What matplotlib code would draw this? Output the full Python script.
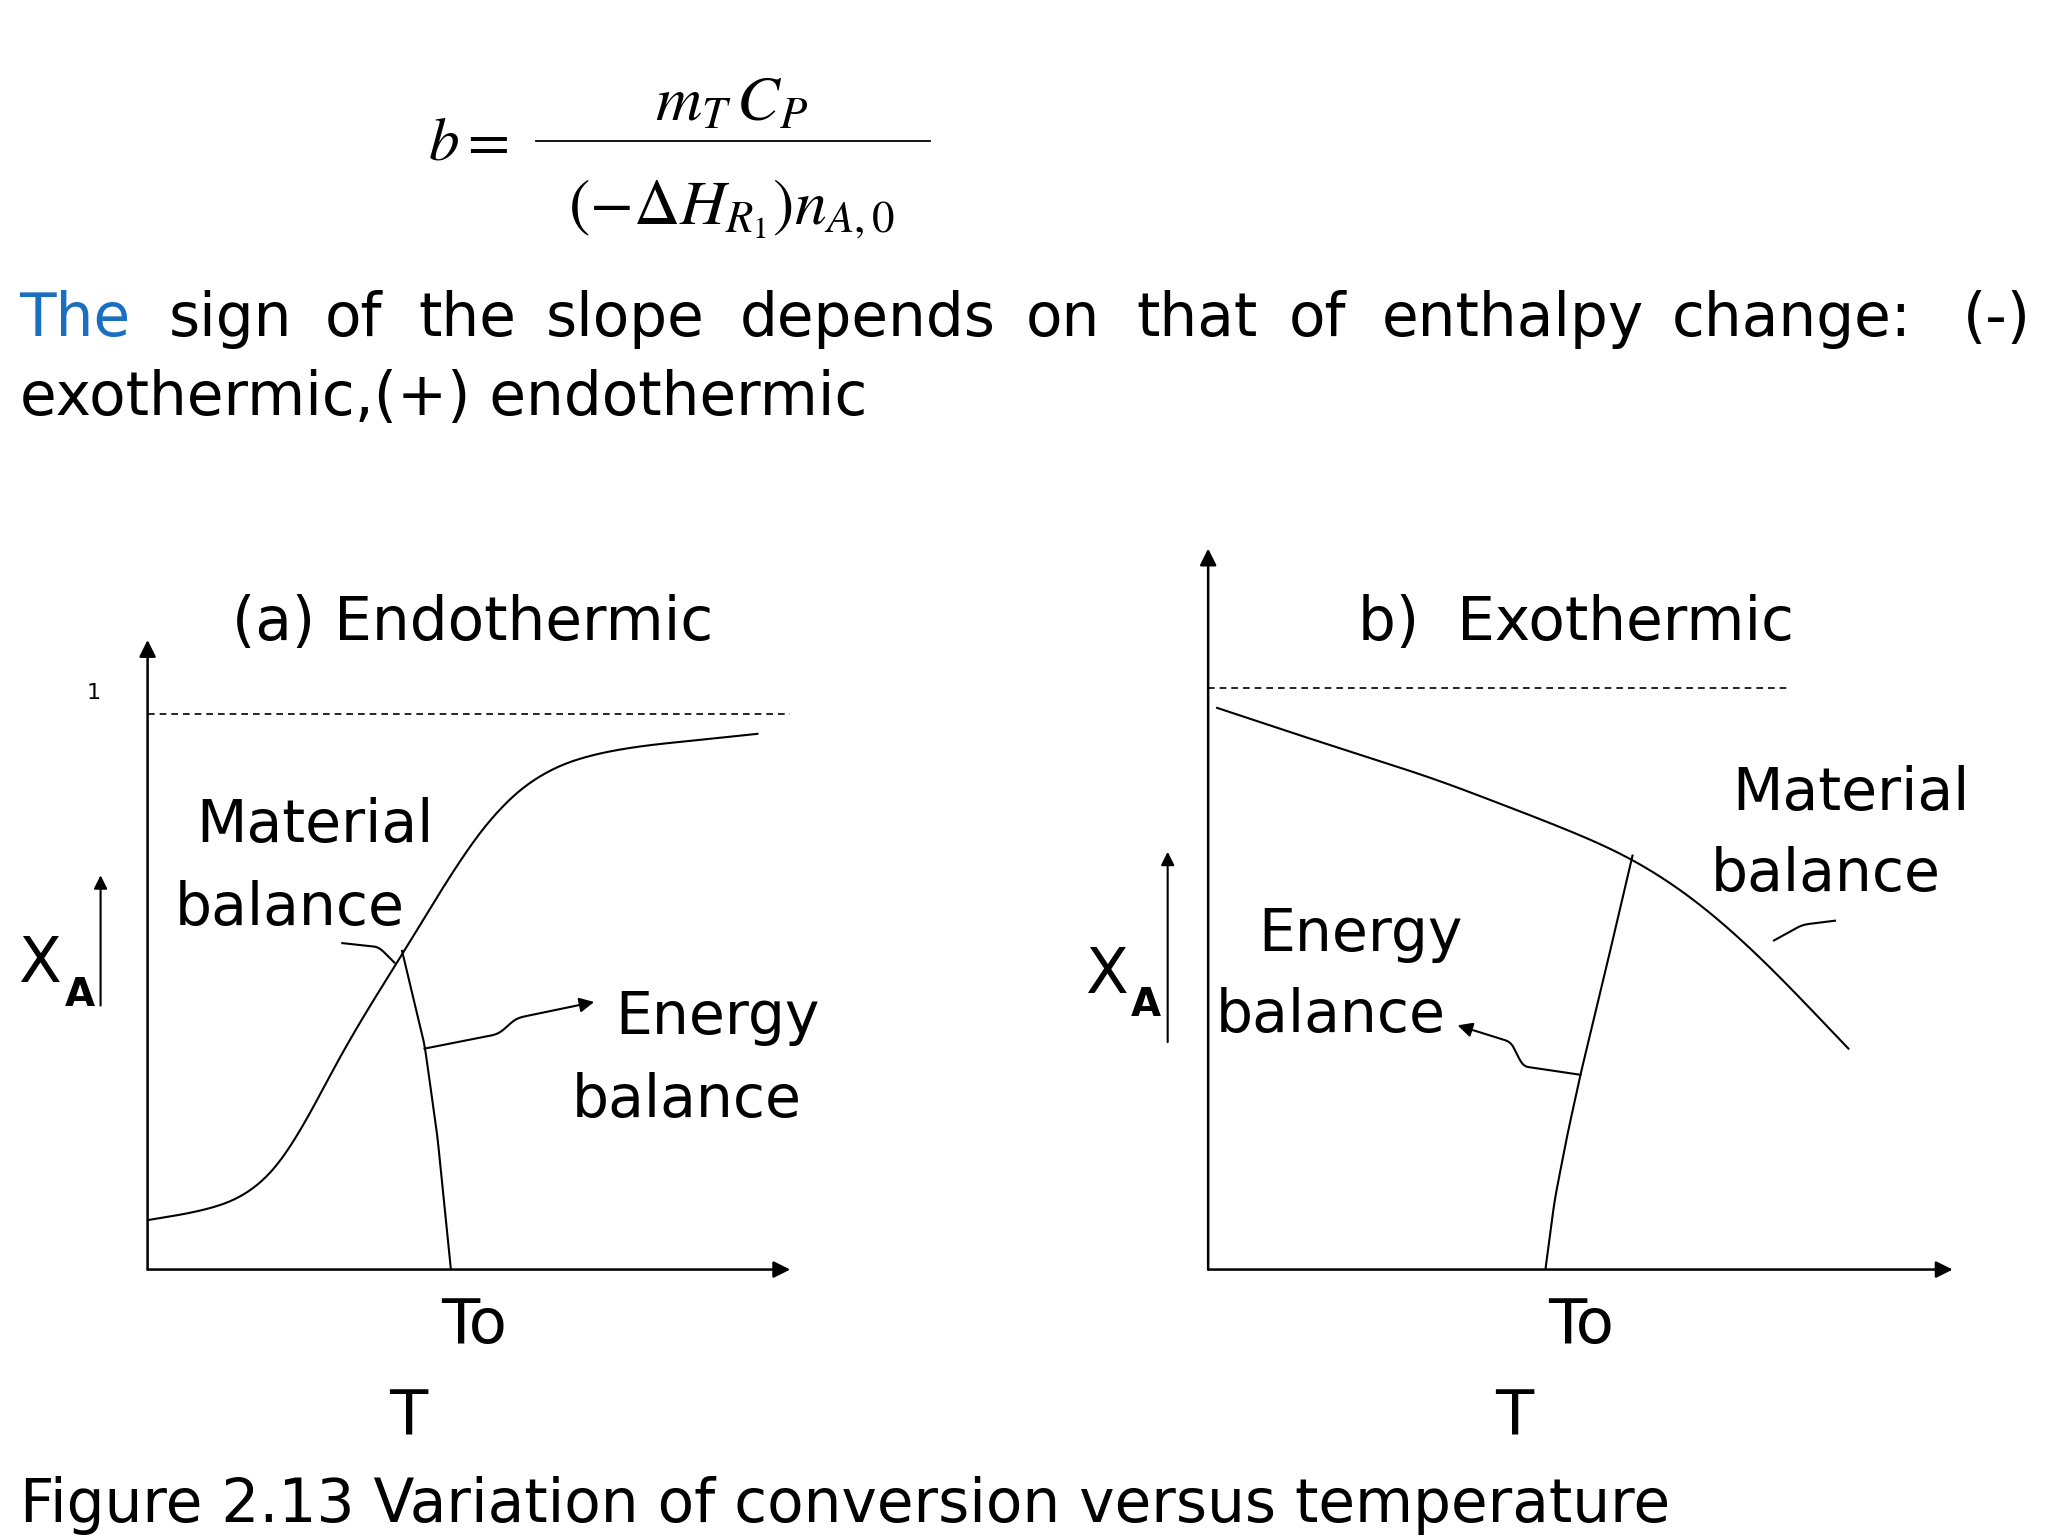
import matplotlib
matplotlib.use("Agg")
import matplotlib.pyplot as plt
import numpy as np

plt.rcParams['font.family'] = ['DejaVu Sans']
plt.rcParams['mathtext.fontset'] = 'stix'

# Panel a (endothermic) data: T in 0..10, X_A (1 = complete conversion)
a_mat_T = [0, 1.16, 1.97, 2.48, 2.99, 3.6, 4.0, 4.61, 5.22, 5.83, 6.44, 7.46, 8.68, 9.49]
a_mat_X = [0.089, 0.111, 0.158, 0.264, 0.393, 0.499, 0.574, 0.692, 0.805, 0.875, 0.915, 0.941, 0.955, 0.965]
a_en_T = [3.96, 4.31, 4.51, 4.72]
a_en_X = [0.574, 0.405, 0.24, 0.0]
a_arrow_T = [4.31, 5.5, 5.7]
a_arrow_X = [0.398, 0.425, 0.452]
a_arrow_head = (6.95, 0.482)
a_lead_T = [3.03, 3.6, 3.84]
a_lead_X = [0.588, 0.581, 0.553]

# Panel b (exothermic)
b_mat_T = [0.12, 1.32, 3.07, 4.82, 5.70, 6.58, 7.46, 8.6]
b_mat_X = [0.966, 0.915, 0.843, 0.757, 0.708, 0.634, 0.533, 0.380]
b_en_T = [4.53, 4.65, 4.82, 5.0, 5.35, 5.70]
b_en_X = [0.0, 0.117, 0.229, 0.335, 0.521, 0.712]
b_arrow_T = [5.0, 4.2, 4.1]
b_arrow_X = [0.335, 0.35, 0.39]
b_arrow_head = (3.35, 0.42)
b_lead_T = [7.6, 7.98, 8.42]
b_lead_X = [0.566, 0.593, 0.6]

sentence_words = ['sign', 'of', 'the', 'slope', 'depends', 'on', 'that', 'of', 'enthalpy', 'change:', '(-)']
sentence_x = [129, 249, 320, 418, 566, 785, 870, 987, 1058, 1280, 1503]

W, H = 1568, 1176
fig = plt.figure(figsize=(20.48, 15.36), dpi=100)

def fx(x): return x / W
def fy(y): return 1 - y / H

def smooth(t, x, n=400, w=41):
    t = np.asarray(t, float); x = np.asarray(x, float)
    d = np.r_[0, np.cumsum(np.hypot(np.diff(t), np.diff(x)))]
    s = np.linspace(0, d[-1], n)
    ts = np.interp(s, d, t); xs = np.interp(s, d, x)
    if len(t) < 3:
        return ts, xs
    for _ in range(2):
        ker = np.ones(w) / w
        tp = np.r_[2 * ts[0] - ts[w:0:-1], ts, 2 * ts[-1] - ts[-2:-w - 2:-1]]
        xp = np.r_[2 * xs[0] - xs[w:0:-1], xs, 2 * xs[-1] - xs[-2:-w - 2:-1]]
        ts = np.convolve(tp, ker, 'same')[w:-w]
        xs = np.convolve(xp, ker, 'same')[w:-w]
    return ts, xs

def make_axes(x0, x1, y0, y1, xtop):
    ax = fig.add_axes([fx(x0), fy(y0), fx(x1) - fx(x0), fy(y1) - fy(y0)])
    ax.set_xlim(0, 10); ax.set_ylim(0, xtop)
    ax.axis('off')
    for xy in [(10, 0), (0, xtop)]:
        ax.annotate('', xy=xy, xytext=(0, 0),
                    arrowprops=dict(arrowstyle='-|>', color='k', lw=1.8, mutation_scale=25,
                                    shrinkA=0, shrinkB=0),
                    annotation_clip=False)
    return ax

lw = 1.5
def curve_arrow(ax, T, X, head):
    t, x = smooth(T + [head[0]], X + [head[1]], w=31)
    ax.plot(t[:-15], x[:-15], 'k', lw=lw)
    ax.annotate('', xy=head, xytext=(t[-16], x[-16]),
                arrowprops=dict(arrowstyle='-|>', color='k', lw=lw, mutation_scale=22,
                                shrinkA=0, shrinkB=0))

axa = make_axes(113, 605, 972, 490, 1.134)
axa.plot([0, 10], [1, 1], 'k--', lw=1.2, dashes=(4, 3))
axa.plot(*smooth(a_mat_T, a_mat_X), 'k', lw=lw)
axa.plot(*smooth(a_en_T, a_en_X, w=21), 'k', lw=lw)
axa.plot(*smooth(a_lead_T, a_lead_X, w=61), 'k', lw=lw)
curve_arrow(axa, a_arrow_T, a_arrow_X, a_arrow_head)

axb = make_axes(925, 1495, 972, 420, 1.24)
axb.plot([0, 7.8], [1, 1], 'k--', lw=1.2, dashes=(4, 3))
axb.plot(*smooth(b_mat_T, b_mat_X), 'k', lw=lw)
axb.plot(*smooth(b_en_T, b_en_X, w=21), 'k', lw=lw)
axb.plot(*smooth(b_lead_T, b_lead_X, w=61), 'k', lw=lw)
curve_arrow(axb, b_arrow_T, b_arrow_X, b_arrow_head)

for xp, ylo, yhi in [(77, 772, 668), (894, 800, 650)]:
    fig.add_artist(matplotlib.patches.FancyArrowPatch((fx(xp), fy(ylo)), (fx(xp), fy(yhi)),
                   transform=fig.transFigure, arrowstyle='-|>', mutation_scale=20, lw=1.5, color='k'))

fs = 42
def txt(x, y, s, size=fs, **kw):
    fig.text(fx(x), fy(y), s, fontsize=size, va='baseline', **kw)

fig.text(fx(328), fy(122), r'$b=$', fontsize=44, va='baseline')
fig.text(fx(560), fy(92), r'$m_T\,C_P$', fontsize=46, va='baseline', ha='center')
fig.add_artist(matplotlib.lines.Line2D([fx(410), fx(712)], [fy(108), fy(108)], color='k', lw=1.3))
fig.text(fx(560), fy(172), r'$(-\Delta H_{R_1})n_{A,0}$', fontsize=46, va='baseline', ha='center')

txt(15, 257, 'The', size=43, color='#1a6fc0')
for w_, x_ in zip(sentence_words, sentence_x):
    txt(x_, 257, w_, size=43)
txt(15, 318, 'exothermic,(+) endothermic', size=43)

txt(178, 490, '(a) Endothermic', size=43)
txt(1040, 490, 'b)  Exothermic', size=43)
txt(66, 535, '1', size=16)
txt(150, 645, 'Material')
txt(134, 708, 'balance')
txt(471, 792, 'Energy')
txt(438, 855, 'balance')
txt(338, 1028, 'To', size=45)
txt(298, 1098, 'T', size=45)
txt(14, 752, 'X', size=45)
txt(50, 770, 'A', size=28, fontweight='bold')

txt(1326, 620, 'Material')
txt(1310, 682, 'balance')
txt(963, 728, 'Energy')
txt(931, 790, 'balance')
txt(1185, 1028, 'To', size=45)
txt(1145, 1098, 'T', size=45)
txt(831, 760, 'X', size=45)
txt(866, 778, 'A', size=28, fontweight='bold')

txt(15, 1165, 'Figure 2.13 Variation of conversion versus temperature', size=43)

fig.savefig('out.png', dpi=100)
